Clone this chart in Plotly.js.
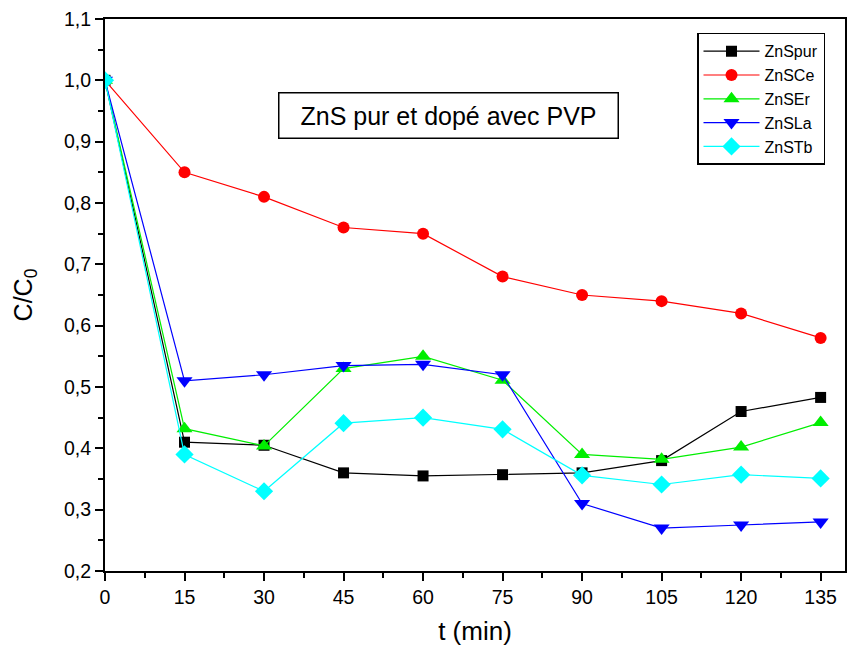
<!DOCTYPE html>
<html><head><meta charset="utf-8">
<script src="https://cdn.plot.ly/plotly-3.0.1.min.js"></script>
<style>body{margin:0;background:#fff}#c{width:848px;height:657px}</style>
</head><body><div id="c"></div>
<script>
const t = [0, 15, 30, 45, 60, 75, 90, 105, 120, 135];
const ZnSpur = [1.0, 0.41, 0.405, 0.36, 0.355, 0.357, 0.36, 0.38, 0.46, 0.483];
const ZnSCe  = [1.0, 0.85, 0.81, 0.76, 0.75, 0.68, 0.65, 0.64, 0.62, 0.58];
const ZnSEr  = [1.0, 0.432, 0.404, 0.53, 0.55, 0.511, 0.39, 0.382, 0.402, 0.442];
const ZnSLa  = [1.0, 0.51, 0.52, 0.535, 0.537, 0.52, 0.31, 0.27, 0.275, 0.28];
const ZnSTb  = [1.0, 0.39, 0.33, 0.441, 0.45, 0.431, 0.356, 0.341, 0.357, 0.351];
const xTicks = [0, 15, 30, 45, 60, 75, 90, 105, 120, 135];

function tr(name, y, color, symbol, size){
  return {x: t, y: y, name: name, type: 'scatter', mode: 'lines+markers',
    line: {color: color, width: 1.2},
    marker: {color: color, symbol: symbol, size: size, line: {width: 0}}};
}
const data = [
  tr('ZnSpur', ZnSpur, '#000000', 'square', 11),
  tr('ZnSCe', ZnSCe, '#ff0000', 'circle', 12),
  tr('ZnSEr', ZnSEr, '#00ee00', 'triangle-up', 14),
  tr('ZnSLa', ZnSLa, '#0000ff', 'triangle-down', 14),
  tr('ZnSTb', ZnSTb, '#00ffff', 'diamond', 14)
];
const fnt = {family: 'Liberation Sans, Arial, sans-serif', color: '#000'};
const layout = {
  width: 848, height: 657,
  margin: {l: 105, r: 3, t: 19, b: 86},
  paper_bgcolor: '#fff', plot_bgcolor: '#fff',
  separators: ', ',
  showlegend: true,
  font: fnt,
  xaxis: {range: [0, 139.6], tickvals: xTicks, ticktext: xTicks.map(String),
    showgrid: false, zeroline: false, showline: true, linecolor: '#000', linewidth: 2,
    mirror: true, ticks: 'outside', ticklen: 8, tickwidth: 2, tickcolor: '#000',
    tickfont: {family: fnt.family, size: 19.5, color: '#000'},
    minor: {dtick: 7.5, tick0: 0, ticks: 'outside', ticklen: 5, tickwidth: 2, tickcolor: '#000', showgrid: false},
    title: {text: 't (min)', font: {family: fnt.family, size: 26, color: '#000'}, standoff: 14}},
  yaxis: {range: [0.2, 1.1], dtick: 0.1, tick0: 0.2, tickformat: '.1f',
    showgrid: false, zeroline: false, showline: true, linecolor: '#000', linewidth: 2,
    mirror: true, ticks: 'outside', ticklen: 8, tickwidth: 2, tickcolor: '#000',
    tickfont: {family: fnt.family, size: 19.5, color: '#000'},
    minor: {dtick: 0.05, tick0: 0.2, ticks: 'outside', ticklen: 5, tickwidth: 2, tickcolor: '#000', showgrid: false},
    title: {text: 'C/C<sub>0</sub>', font: {family: fnt.family, size: 25, color: '#000'}, standoff: 24}},
  legend: {x: 0.8, y: 0.975, xanchor: 'left', yanchor: 'top',
    bordercolor: '#000', borderwidth: 1.5, bgcolor: '#fff',
    font: {family: fnt.family, size: 16, color: '#000'}, tracegroupgap: 0, itemwidth: 56},
  annotations: [{xref: 'paper', yref: 'paper', x: 0.464, y: 0.825, xanchor: 'center', yanchor: 'middle',
    text: 'ZnS pur et dopé avec PVP', showarrow: false,
    font: {family: fnt.family, size: 25, color: '#000'},
    width: 338, height: 44, align: 'center', valign: 'middle',
    bordercolor: '#000', borderwidth: 1.5, borderpad: 0, bgcolor: '#fff'}]
};
Plotly.newPlot('c', data, layout, {displayModeBar: false, staticPlot: true});
</script></body></html>
